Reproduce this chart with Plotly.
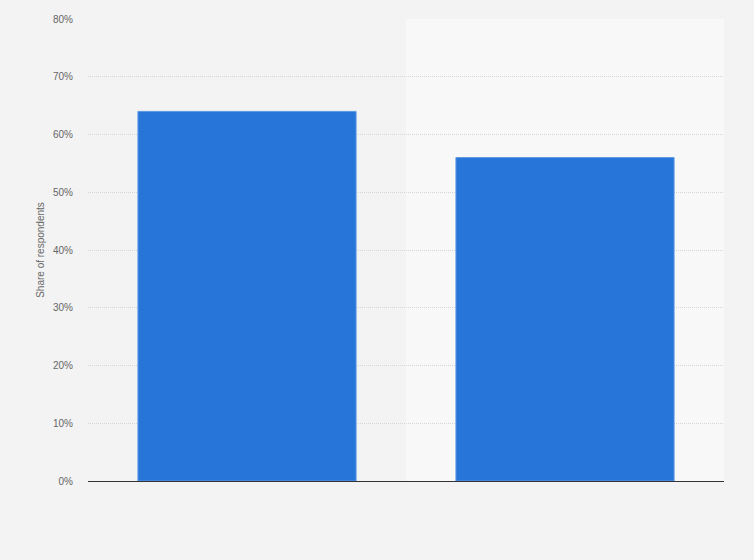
import plotly.graph_objects as go

# categories (labels not shown in the reference)
categorias = ["Grupo A", "Grupo B"]
valores = [64, 56]
ticks_y = [0, 10, 20, 30, 40, 50, 60, 70, 80]
ticks_txt = [f"{v}%" for v in ticks_y]

fig = go.Figure()

fig.add_trace(go.Bar(
    x=categorias,
    y=valores,
    marker=dict(color="#2775d9", line=dict(color="#5b99e4", width=1)),
    hoverinfo="x+y",
))

# banda clara detras de la segunda categoria
fig.add_shape(type="rect", xref="x", yref="paper", x0=0.5, x1=1.5, y0=0, y1=1,
              fillcolor="#f8f8f8", line_width=0, layer="below")

fig.update_layout(
    width=754, height=560,
    paper_bgcolor="#f3f3f3",
    plot_bgcolor="#f3f3f3",
    margin=dict(l=88, r=30, t=19, b=79),
    bargap=0.314,
    showlegend=False,
    font=dict(family="Arial, Liberation Sans, sans-serif", color="#666666", size=10),
)
fig.update_xaxes(
    showticklabels=False, showgrid=False, zeroline=False,
    showline=True, linecolor="#333333", linewidth=1,
    range=[-0.5, 1.5],
)
fig.update_yaxes(
    range=[0, 80], tickvals=ticks_y, ticktext=ticks_txt,
    showgrid=True, gridcolor="#d6d6d6", griddash="1px,1px", gridwidth=1,
    zeroline=False, ticklabelstandoff=14,
    title=dict(text="Share of respondents", font=dict(size=10, color="#666666"), standoff=6),
)

# quitar el margen del body para que el grafico ocupe toda la ventana
fig.write_html("out.html", config={"displayModeBar": False},
               post_script="document.body.style.margin='0';")
